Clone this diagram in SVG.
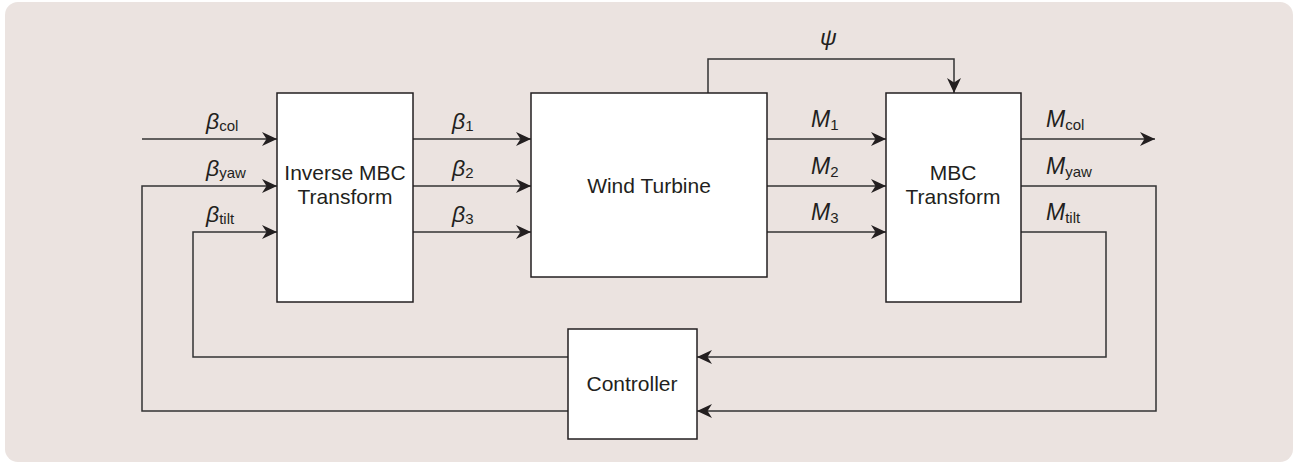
<svg xmlns="http://www.w3.org/2000/svg" width="1303" height="463" viewBox="0 0 1303 463">
<defs>
<marker id="arr" markerUnits="userSpaceOnUse" markerWidth="15" markerHeight="14" refX="15" refY="7" orient="auto">
<path d="M0,0 L15,7 L0,14 L4.5,7 Z" fill="#231f20"/>
</marker>
<style>
.box{fill:#ffffff;stroke:#231f20;stroke-width:1.5}
.ln{fill:none;stroke:#333;stroke-width:1.5}
.t{font-family:"Liberation Sans",Arial,sans-serif;font-size:21px;fill:#231f20;text-anchor:middle}
.v{font-family:"Liberation Sans",Arial,sans-serif;font-size:23px;font-style:italic;fill:#231f20}
.s{font-size:15px;font-style:normal}
</style>
</defs>
<rect x="5" y="2" width="1288" height="460" rx="13" fill="#ebe3e0"/>
<g id="connectors">
<path class="ln" d="M142,139 H277" marker-end="url(#arr)"/>
<path class="ln" d="M568,411 H142 V186 H277" marker-end="url(#arr)"/>
<path class="ln" d="M568,357 H193 V232 H277" marker-end="url(#arr)"/>
<path class="ln" d="M413,139 H531" marker-end="url(#arr)"/>
<path class="ln" d="M413,186 H531" marker-end="url(#arr)"/>
<path class="ln" d="M413,232 H531" marker-end="url(#arr)"/>
<path class="ln" d="M767,139 H886" marker-end="url(#arr)"/>
<path class="ln" d="M767,186 H886" marker-end="url(#arr)"/>
<path class="ln" d="M767,232 H886" marker-end="url(#arr)"/>
<path class="ln" d="M708,93 V59 H954 V93" marker-end="url(#arr)"/>
<path class="ln" d="M1021,139 H1155" marker-end="url(#arr)"/>
<path class="ln" d="M1021,186 H1156 V411 H697" marker-end="url(#arr)"/>
<path class="ln" d="M1021,232 H1106 V357 H697" marker-end="url(#arr)"/>
</g>
<g id="labels">
<text class="v" x="206" y="129">β<tspan class="s" dy="2">col</tspan></text>
<text class="v" x="206" y="176">β<tspan class="s" dy="2">yaw</tspan></text>
<text class="v" x="206" y="222">β<tspan class="s" dy="2">tilt</tspan></text>
<text class="v" x="452" y="129">β<tspan class="s" dy="2">1</tspan></text>
<text class="v" x="452" y="176">β<tspan class="s" dy="2">2</tspan></text>
<text class="v" x="452" y="222">β<tspan class="s" dy="2">3</tspan></text>
<text class="v" x="811" y="127">M<tspan class="s" dy="3">1</tspan></text>
<text class="v" x="811" y="174">M<tspan class="s" dy="3">2</tspan></text>
<text class="v" x="811" y="220">M<tspan class="s" dy="3">3</tspan></text>
<text class="v" x="1046" y="127">M<tspan class="s" dy="3">col</tspan></text>
<text class="v" x="1046" y="174">M<tspan class="s" dy="3">yaw</tspan></text>
<text class="v" x="1046" y="220">M<tspan class="s" dy="3">tilt</tspan></text>
<text class="v" x="820" y="45">ψ</text>
</g>
<g id="inverse-mbc">
<rect class="box" x="277" y="93" width="136" height="209"/>
<text class="t" x="345" y="180">Inverse MBC</text>
<text class="t" x="345" y="204">Transform</text>
</g>
<g id="wind-turbine">
<rect class="box" x="531" y="93" width="236" height="184"/>
<text class="t" x="649" y="193">Wind Turbine</text>
</g>
<g id="mbc">
<rect class="box" x="886" y="93" width="135" height="209"/>
<text class="t" x="953" y="180">MBC</text>
<text class="t" x="953" y="204">Transform</text>
</g>
<g id="controller">
<rect class="box" x="568" y="329" width="129" height="110"/>
<text class="t" x="632" y="391">Controller</text>
</g>
</svg>
